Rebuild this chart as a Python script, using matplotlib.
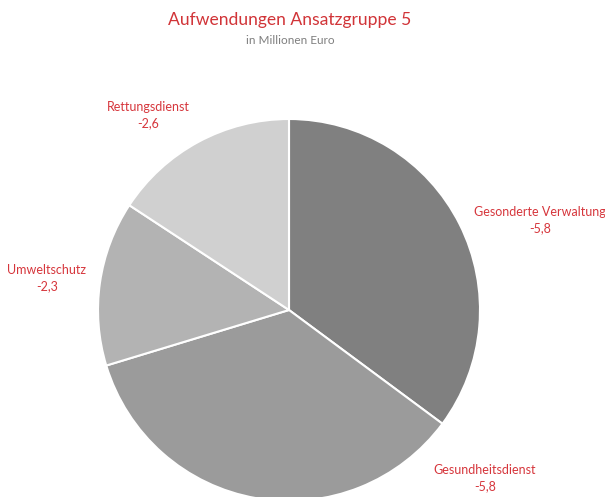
import matplotlib.pyplot as plt

plt.rcParams['font.family'] = ['Lato', 'DejaVu Sans']

categories = ['Gesonderte Verwaltung', 'Gesundheitsdienst', 'Umweltschutz', 'Rettungsdienst']
values = [-5.8, -5.8, -2.3, -2.6]
colors = ['#808080', '#9b9b9b', '#b3b3b3', '#d0d0d0']

# label centres in pixel coords (x, y from top)
label_pos = [(540, 220), (485, 478), (47, 278), (148, 115)]

W, H = 605, 497
fig = plt.figure(figsize=(W / 100, H / 100), dpi=100)
ax = fig.add_axes([0, 0, 1, 1])

sizes = [abs(v) for v in values]
ax.pie(sizes, colors=colors, startangle=90, counterclock=False,
       center=(289, H - 310), radius=191,
       wedgeprops=dict(edgecolor='white', linewidth=1.5))

for name, v, (px, py) in zip(categories, values, label_pos):
    txt = name + '\n' + ('%.1f' % v).replace('.', ',')
    ax.text(px, H - py, txt, ha='center', va='center', color='#d6363c',
            fontsize=9, linespacing=1.4)

ax.set_xlim(0, W)
ax.set_ylim(0, H)
ax.set_aspect('equal')
ax.axis('off')

fig.text(290 / W, 1 - 20 / H, 'Aufwendungen Ansatzgruppe 5', ha='center', va='center',
         color='#d13438', fontsize=12.6)
fig.text(290 / W, 1 - 41 / H, 'in Millionen Euro', ha='center', va='center',
         color='#7f7f7f', fontsize=8.5)

fig.savefig('out.png', dpi=100)
